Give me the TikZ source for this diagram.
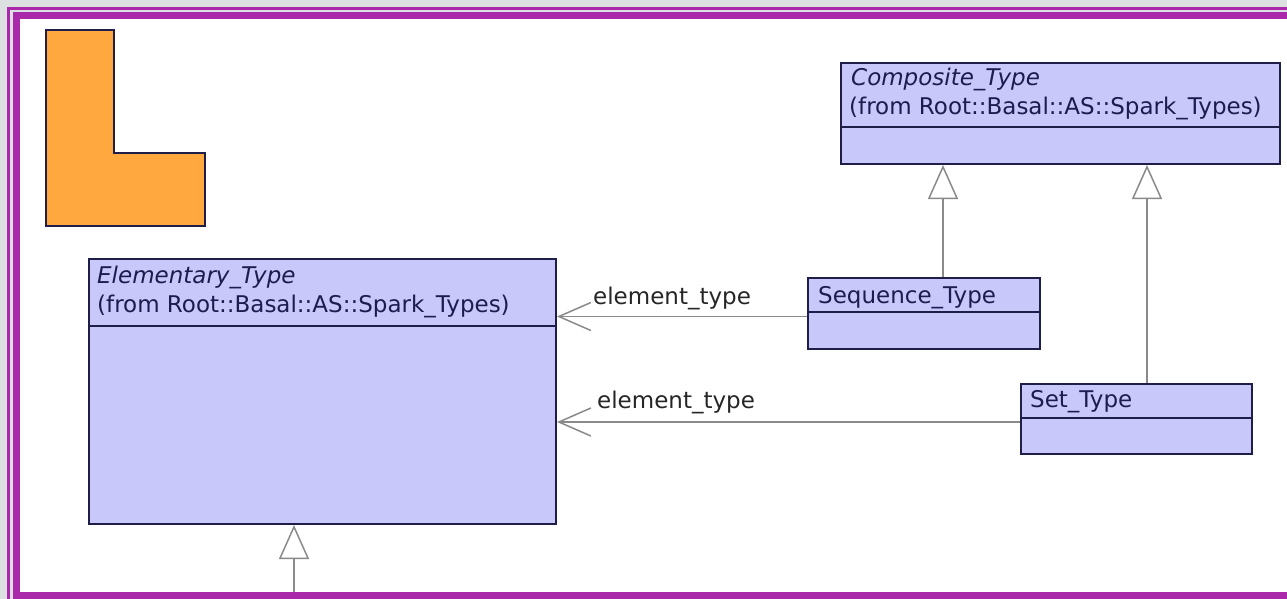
\documentclass[tikz,border=0pt]{standalone}
\usepackage{fontspec}
\setmainfont{DejaVu Sans}
\usetikzlibrary{arrows.meta,calc}
\definecolor{framegray}{HTML}{DCE0E0}
\definecolor{framepurple}{HTML}{AA28AA}
\definecolor{classfill}{HTML}{C8C8FA}
\definecolor{classline}{HTML}{1E1E48}
\definecolor{classtext}{HTML}{1C1C50}
\definecolor{linkgray}{HTML}{8A8A8A}
\definecolor{lorange}{HTML}{FFA840}
\tikzset{
  umlbox/.style={draw=classline, fill=classfill, line width=2pt, inner sep=0pt, anchor=north west},
  divider/.style={draw=classline, line width=2pt},
  umltext/.style={anchor=base west, inner sep=0pt, text=classtext, font=\fontsize{23}{28}\selectfont},
  linklabel/.style={anchor=base west, inner sep=0pt, text=black!85, font=\fontsize{23}{28}\selectfont},
  assoc/.style={draw=linkgray, line width=1.5pt, -{Straight Barb[length=32pt,width=28pt]}},
  gen/.style={draw=linkgray, line width=1.5pt, -{Triangle[length=34pt,width=30pt,fill=white]}},
}
\begin{document}
\begin{tikzpicture}[x=1pt,y=-1pt]
\useasboundingbox (0,0) rectangle (1287,599);
% window frame
\fill[framegray] (0,0) rectangle (1287,599);
\fill[framepurple] (7,7) rectangle (1287,10);
\fill[framepurple] (7,7) rectangle (10,599);
\fill[framepurple] (13,12) rectangle (1287,19);
\fill[framepurple] (13,12) rectangle (20,599);
\fill[white] (20,19) rectangle (1287,592);

% L logo
\filldraw[fill=lorange, draw=classline, line width=1.5pt]
  (46,30) -- (114,30) -- (114,153) -- (205,153) -- (205,226) -- (46,226) -- cycle;

% classes
\node[umlbox, minimum width=439pt, minimum height=101pt] (comp) at (840,62) {};
\draw[divider] ($(comp.north west)+(0,65)$) -- ($(comp.north east)+(0,65)$);
\node[umltext] (compname) at (851,86) {\itshape Composite\_Type};
\node[umltext] (compfrom) at (849,115) {(from Root::Basal::AS::Spark\_Types)};

\node[umlbox, minimum width=467pt, minimum height=265pt] (elem) at (88,258) {};
\draw[divider] ($(elem.north west)+(0,68)$) -- ($(elem.north east)+(0,68)$);
\node[umltext] (elemname) at (97,283) {\itshape Elementary\_Type};
\node[umltext] (elemfrom) at (97,312) {(from Root::Basal::AS::Spark\_Types)};

\node[umlbox, minimum width=232pt, minimum height=71pt] (seq) at (807,277) {};
\draw[divider] ($(seq.north west)+(0,35)$) -- ($(seq.north east)+(0,35)$);
\node[umltext] (seqname) at (818,303) {Sequence\_Type};

\node[umlbox, minimum width=231pt, minimum height=70pt] (set) at (1020,383) {};
\draw[divider] ($(set.north west)+(0,35)$) -- ($(set.north east)+(0,35)$);
\node[umltext] (setname) at (1030,407) {Set\_Type};

% associations
\coordinate (seqend) at ($(seq.west)+(0,3)$);
\draw[assoc] (seqend) -- (seqend -| elem.east);
\node[linklabel] (lab1) at (593,304) {element\_type};
\coordinate (setend) at ($(set.west)+(0,3)$);
\draw[assoc] (setend) -- (setend -| elem.east);
\node[linklabel] (lab2) at (597,408) {element\_type};

% generalizations
\coordinate (sequp) at ($(seq.north west)+(136,0)$);
\draw[gen] (sequp) -- (sequp |- comp.south);
\coordinate (setup) at ($(set.north west)+(127,0)$);
\draw[gen] (setup) -- (setup |- comp.south);
\coordinate (belowelem) at (294,592);
\draw[gen] (belowelem) -- (belowelem |- elem.south);

% bottom edge of the frame
\fill[framepurple] (13,592) rectangle (1287,599);
\end{tikzpicture}
\end{document}
